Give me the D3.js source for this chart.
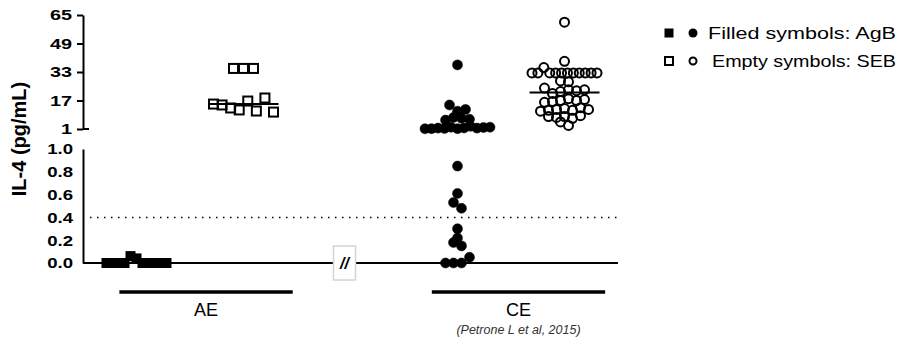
<!DOCTYPE html>
<html>
<head>
<meta charset="utf-8">
<script src="https://cdn.jsdelivr.net/npm/d3@7"></script>
<style>
  body { margin: 0; background: #fff; }
  svg { display: block; font-family: "Liberation Sans", Arial, sans-serif; }
</style>
</head>
<body>
<svg></svg>
<script>
// columns on the x axis (the "break" slot holds the // marker)
const columns = ["AE|AgB", "AE|SEB", "break", "CE|AgB", "CE|SEB"]
const groups = ["AE", "CE"]

// IL-4 values (pg/mL), in left-to-right order within a row
const aeAgB = [0, 0, 0, 0, 0.06, 0.04, 0, 0, 0, 0, 0]
const aeSeb = [35, 35, 35, 15, 14.5, 12.8, 11.7, 16.7, 11.1, 18.4, 10.5]
const ceAgB = [37, 14.5, 11, 12, 6, 7.5, 7, 6.5,
               1.1, 1.2, 1.5, 1.3, 2, 1.2, 1.6, 2.5, 1.5, 1.8, 2,
               0.85, 0.61, 0.53, 0.48, 0.30, 0.22, 0.18, 0.15, 0, 0, 0, 0.05]
const ceSeb = [61, 39,
               32.5, 32.5, 35.5, 32.5, 32.5, 32.5, 32.5, 32.5, 32.5, 32.5, 32.5, 32.5,
               28, 27.5, 24,
               21, 22, 23, 22.5, 23,
               16, 16.5, 17, 18, 17, 17.5,
               11, 11.5, 12, 12.5, 11.5, 13, 12,
               8, 7.5, 8, 7, 8.5,
               5, 3]

const upperTicks = [1, 17, 33, 49, 65]
const lowerTicks = [0, 0.2, 0.4, 0.6, 0.8, 1.0]
const cutoff = 0.4
const citation = "(Petrone L et al, 2015)"
const legendLabels = ["Filled symbols: AgB", "Empty symbols: SEB"]

const width = 900
const height = 342

const svg = d3.select('svg')
    .attr('width', width)
    .attr('height', height)

// x: one slot per column
const xScale = d3.scalePoint()
    .domain(columns)
    .range([83, 618])
    .padding(0.5)

// y is split in two panels: 1..65 on top, 0..1 below
const yUp = d3.scaleLinear().domain([1, 65]).range([129, 15])
const yLo = d3.scaleLinear().domain([0, 1]).range([263, 149])
const yVal = v => v >= 1 ? yUp(v) : yLo(v)

// stretch text a bit wider, like the source figure
const widen = (sel, k) => sel.each(function () {
    const w = this.getComputedTextLength()
    d3.select(this).attr('textLength', w * k).attr('lengthAdjust', 'spacingAndGlyphs')
})

// upper axis
const upAxis = svg.append('g')
    .attr('transform', `translate(${xScale.range()[0]},0)`)
    .call(d3.axisLeft(yUp).tickValues(upperTicks).tickSize(6).tickPadding(5).tickSizeOuter(0))
upAxis.select('.domain').attr('stroke-width', 2)
upAxis.selectAll('.tick line').attr('stroke-width', 2)
upAxis.selectAll('text').attr('font-size', 15.5).attr('font-weight', 'bold').attr('fill', '#000')
    .attr('font-family', '"Liberation Sans", Arial, sans-serif').call(widen, 1.28)
// the break tick at 1 runs across the axis
upAxis.append('line').attr('x1', 0).attr('x2', 6).attr('y1', yUp(1)).attr('y2', yUp(1))
    .attr('stroke', '#000').attr('stroke-width', 2)

// lower axis
const loAxis = svg.append('g')
    .attr('transform', `translate(${xScale.range()[0]},0)`)
    .call(d3.axisLeft(yLo).tickValues(lowerTicks).tickFormat(d3.format('.1f')).tickSize(0).tickPadding(10).tickSizeOuter(0))
loAxis.select('.domain').attr('stroke-width', 2)
loAxis.selectAll('text').attr('font-size', 15.5).attr('font-weight', 'bold').attr('fill', '#000')
    .attr('font-family', '"Liberation Sans", Arial, sans-serif').call(widen, 1.2)

// baseline along 0.0
svg.append('line')
    .attr('x1', xScale.range()[0]).attr('x2', xScale.range()[1])
    .attr('y1', yLo(0)).attr('y2', yLo(0))
    .attr('stroke', '#000').attr('stroke-width', 2)

// dotted cut-off
svg.append('line')
    .attr('x1', xScale.range()[0] + 7).attr('x2', xScale.range()[1])
    .attr('y1', yLo(cutoff)).attr('y2', yLo(cutoff))
    .attr('stroke', '#000').attr('stroke-width', 1.5)
    .attr('stroke-dasharray', '1.5,5.5')

// y title
svg.append('text')
    .attr('transform', `translate(26,${(yUp(1) + yLo(1)) / 2}) rotate(-90)`)
    .attr('text-anchor', 'middle')
    .attr('font-size', 20).attr('font-weight', 'bold')
    .text('IL-4 (pg/mL)')

// axis break box
const bx = xScale('break') - 6
const brk = svg.append('g').attr('transform', `translate(${bx},${yLo(0)})`)
brk.append('rect').attr('x', -11).attr('y', -17).attr('width', 22).attr('height', 34)
    .attr('fill', '#fff').attr('stroke', '#d4d4d4').attr('stroke-width', 1.5)
brk.append('text').attr('text-anchor', 'middle').attr('y', 6)
    .attr('font-size', 16).attr('font-weight', 'bold').attr('font-style', 'italic')
    .text('//')

// row layout like a scatter dot plot: points whose pixel y is close share a row,
// and each row is spread out evenly around the column centre (data order kept)
const rows = (values, cx, binH, gap, maxW) => {
    const pts = values.map((v, i) => ({ v, i, y: yVal(v) }))
    const sorted = pts.slice().sort((a, b) => b.y - a.y)
    const bins = []
    sorted.forEach(p => {
        const last = bins[bins.length - 1]
        if (last && last.y0 - p.y < binH) last.pts.push(p)
        else bins.push({ y0: p.y, pts: [p] })
    })
    bins.forEach(b => {
        b.pts.sort((a, c) => a.i - c.i)
        const n = b.pts.length
        const sp = n > 1 ? Math.min(gap, maxW / (n - 1)) : 0
        b.pts.forEach((p, k) => { p.x = cx + (k - (n - 1) / 2) * sp })
    })
    return pts
}

const series = [
    { col: "AE|AgB", values: aeAgB, shape: 'square', filled: true },
    { col: "AE|SEB", values: aeSeb, shape: 'square', filled: false },
    { col: "CE|AgB", values: ceAgB, shape: 'circle', filled: true },
    { col: "CE|SEB", values: ceSeb, shape: 'circle', filled: false }
]

series.forEach(s => {
    const sq = s.shape === 'square'
    const pts = rows(s.values, xScale(s.col), sq ? 15 : 7, sq ? 10 : 8, sq ? 60 : 65)
    const g = svg.append('g')
    if (sq) {
        g.selectAll('rect').data(pts).enter().append('rect')
            .attr('x', d => d.x - 4.5).attr('y', d => d.y - 4.5)
            .attr('width', 9).attr('height', 9)
            .attr('fill', s.filled ? '#000' : 'none')
            .attr('stroke', '#000').attr('stroke-width', s.filled ? 1 : 2)
    } else {
        g.selectAll('circle').data(pts).enter().append('circle')
            .attr('cx', d => d.x).attr('cy', d => d.y)
            .attr('r', s.filled ? 5 : 4.5)
            .attr('fill', s.filled ? '#000' : 'none')
            .attr('stroke', '#000').attr('stroke-width', s.filled ? 0.5 : 2)
    }
    // median line
    const m = d3.median(s.values)
    svg.append('line')
        .attr('x1', xScale(s.col) - 35).attr('x2', xScale(s.col) + 35)
        .attr('y1', yVal(m)).attr('y2', yVal(m))
        .attr('stroke', '#000').attr('stroke-width', 2)
})

// group bars and labels
const step = xScale.step()
groups.forEach(grp => {
    const x0 = xScale(grp + '|AgB') - step * (grp === 'AE' ? 0.16 : 0.24)
    const x1 = xScale(grp + '|SEB') + step * (grp === 'AE' ? 0.46 : 0.38)
    svg.append('line').attr('x1', x0).attr('x2', x1).attr('y1', 292).attr('y2', 292)
        .attr('stroke', '#000').attr('stroke-width', 3.5)
    svg.append('text').attr('x', (x0 + x1) / 2).attr('y', 316)
        .attr('text-anchor', 'middle').attr('font-size', 18)
        .text(grp)
    if (grp === 'CE') {
        svg.append('text').attr('x', (x0 + x1) / 2).attr('y', 334)
            .attr('text-anchor', 'middle').attr('font-size', 12.5)
            .attr('font-style', 'italic').attr('fill', '#333')
            .text(citation)
    }
})

// legend (text stretched so both rows end near the right edge, as in the source)
const legend = svg.append('g').attr('transform', 'translate(669,33)')
legendLabels.forEach((label, i) => {
    const row = legend.append('g').attr('transform', `translate(0,${i * 28})`)
    const filled = i === 0
    const tx = filled ? 39 : 43
    row.append('rect').attr('x', filled ? -4.5 : -4).attr('y', filled ? -4.5 : -4)
        .attr('width', filled ? 9 : 8).attr('height', filled ? 9 : 8)
        .attr('fill', filled ? '#000' : 'none').attr('stroke', '#000').attr('stroke-width', filled ? 0 : 2)
    row.append('circle').attr('cx', 24).attr('cy', 0).attr('r', filled ? 4.5 : 3.5)
        .attr('fill', filled ? '#000' : 'none').attr('stroke', '#000').attr('stroke-width', filled ? 0 : 2)
    row.append('text').attr('x', tx).attr('y', 6)
        .attr('font-size', 16.5).text(label)
        .attr('textLength', 896 - 669 - tx).attr('lengthAdjust', 'spacingAndGlyphs')
})
</script>
</body>
</html>
